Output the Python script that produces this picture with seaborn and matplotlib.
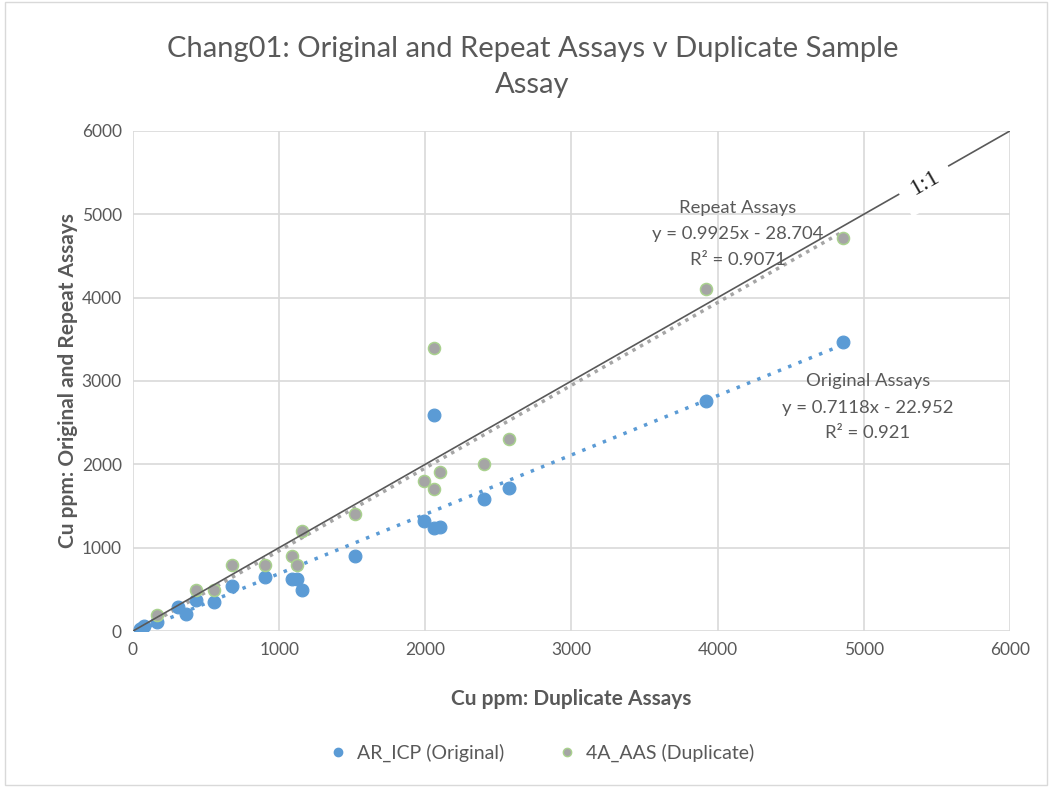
import numpy as np
import pandas as pd
import matplotlib
matplotlib.use("Agg")
import matplotlib.pyplot as plt
from matplotlib.lines import Line2D
import seaborn as sns

# ---- data ----
dup_x = [45, 60, 75, 161, 310, 363, 430, 552, 676, 906, 1088, 1120, 1156,
         1521, 1988, 2057, 2057, 2102, 2401, 2575, 3920, 4857]
orig_y = [25, 40, 55, 106, 288, 200, 376, 352, 540, 644, 628, 628, 492,
          896, 1320, 2590, 1232, 1252, 1580, 1720, 2760, 3468]
rep_y = [np.nan, np.nan, np.nan, 192, np.nan, np.nan, 492, 492, 792, 792, 896, 792, 1200,
         1404, 1800, 3400, 1700, 1904, 2004, 2304, 4104, 4716]
series_names = ["AR_ICP (Original)", "4A_AAS (Duplicate)"]
fit_orig = [0.7118, -22.952]
fit_rep = [0.9925, -28.704]
r2_orig = 0.921
r2_rep = 0.9071
x_ticks = [0, 1000, 2000, 3000, 4000, 5000, 6000]
y_ticks = [0, 1000, 2000, 3000, 4000, 5000, 6000]

BLUE = "#5B9BD5"
GREY = "#A5A5A5"
GREEN_EDGE = "#A9D18E"
TXT = "#595959"

sns.set_theme(style="whitegrid")
plt.rcParams["font.family"] = ["Lato", "DejaVu Sans"]

df = pd.DataFrame({
    "x": dup_x * 2,
    "y": orig_y + rep_y,
    "series": [series_names[0]] * len(dup_x) + [series_names[1]] * len(dup_x),
}).dropna()

fig = plt.figure(figsize=(10.52, 7.87), dpi=100)
ax = fig.add_axes([0.1264, 0.1982, 0.8336, 0.6354])

sns.scatterplot(data=df[df.series == series_names[0]], x="x", y="y", ax=ax,
                color=BLUE, edgecolor=BLUE, s=85, linewidth=0.8, zorder=3, legend=False)
sns.scatterplot(data=df[df.series == series_names[1]], x="x", y="y", ax=ax,
                color=GREY, edgecolor=GREEN_EDGE, s=75, linewidth=1.1, zorder=3, legend=False)

# trendlines
xo = np.array([min(dup_x), max(dup_x)])
ax.plot(xo, fit_orig[0] * xo + fit_orig[1], color=BLUE, lw=2.5, ls=(0, (1, 2.2)), zorder=2)
xr_vals = [x for x, y in zip(dup_x, rep_y) if not np.isnan(y)]
xr = np.array([min(xr_vals), max(xr_vals)])
ax.plot(xr, fit_rep[0] * xr + fit_rep[1], color=GREY, lw=2.5, ls=(0, (1, 1.5)), zorder=2)

# 1:1 line
ax.plot([0, 6000], [0, 6000], color="#595959", lw=1.2, zorder=4)
ax.text(5420, 5380, "1:1", rotation=29.7, ha="center", va="center",
        fontsize=17, family=["Liberation Serif"], color="#222222", zorder=5,
        bbox=dict(boxstyle="square,pad=0.55", fc="white", ec="none"))

# equation labels
fs = 13.3
ax.text(4139, 5076, "Repeat Assays", ha="center", va="center", fontsize=fs, color=TXT)
ax.text(4139, 4764, f"y = {fit_rep[0]}x - {abs(fit_rep[1])}", ha="center", va="center", fontsize=fs, color=TXT)
ax.text(4139, 4452, f"R² = {r2_rep}", ha="center", va="center", fontsize=fs, color=TXT)
ax.text(5028, 3000, "Original Assays", ha="center", va="center", fontsize=fs, color=TXT)
ax.text(5028, 2676, f"y = {fit_orig[0]}x - {abs(fit_orig[1])}", ha="center", va="center", fontsize=fs, color=TXT)
ax.text(5028, 2376, f"R² = {r2_orig}", ha="center", va="center", fontsize=fs, color=TXT)

ax.set_xlim(0, 6000)
ax.set_ylim(0, 6000)
ax.set_xticks(x_ticks)
ax.set_yticks(y_ticks)
ax.tick_params(axis="both", colors=TXT, labelsize=12.5, length=0, pad=8)
ax.grid(True, color="#D9D9D9", lw=1.2)
for s in ax.spines.values():
    s.set_visible(False)
ax.set_xlabel("Cu ppm: Duplicate Assays", fontsize=15, fontweight="bold", color=TXT, labelpad=22)
ax.set_ylabel("Cu ppm: Original and Repeat Assays", fontsize=15, fontweight="bold", color=TXT, labelpad=3)

fig.text(0.506, 0.915, "Chang01: Original and Repeat Assays v Duplicate Sample\nAssay",
         ha="center", va="center", fontsize=21, color=TXT, linespacing=1.45)

handles = [
    Line2D([], [], marker="o", ls="", color=BLUE, markeredgecolor=BLUE, markersize=6),
    Line2D([], [], marker="o", ls="", color=GREY, markeredgecolor=GREEN_EDGE, markersize=6),
]
fig.legend(handles, series_names, loc="center", bbox_to_anchor=(0.51, 0.043), ncol=2,
           frameon=False, fontsize=14, labelcolor=TXT, handletextpad=0.0, columnspacing=2.2)

# chart border
fig.patches.append(plt.Rectangle((0.005, 0.003), 0.99, 0.994, transform=fig.transFigure,
                                 fill=False, ec="#D9D9D9", lw=1))

fig.savefig("out.png", dpi=100)
